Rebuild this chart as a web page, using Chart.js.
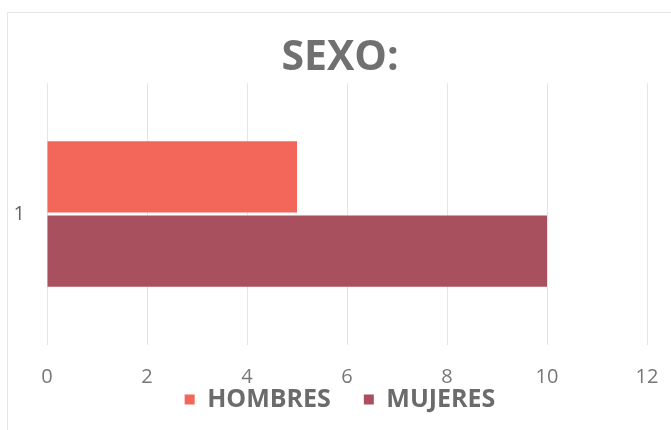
<!DOCTYPE html>
<html>
<head>
<meta charset="utf-8">
<script src="https://cdn.jsdelivr.net/npm/chart.js@4.4.0/dist/chart.umd.min.js"></script>
<style>
html,body{margin:0;padding:0;background:#fff;}
#wrap{position:relative;width:671px;height:430px;}
#frame{position:absolute;left:7px;top:12px;width:680px;height:430px;border:1px solid #e6e6e6;box-sizing:border-box;}
canvas{position:absolute;left:0;top:0;}
</style>
</head>
<body>
<div id="wrap">
<div id="frame"></div>
<canvas id="c" width="671" height="430"></canvas>
</div>
<script>
const categories = ['1'];
const seriesNames = ['HOMBRES', 'MUJERES'];
const hombres = [5];
const mujeres = [10];
const xTicks = [0, 2, 4, 6, 8, 10, 12];

new Chart(document.getElementById('c'), {
  type: 'bar',
  data: {
    labels: categories,
    datasets: [
      { label: seriesNames[0], data: hombres, backgroundColor: '#F2675A', barPercentage: 0.96, categoryPercentage: 0.567 },
      { label: seriesNames[1], data: mujeres, backgroundColor: '#A8505E', barPercentage: 0.96, categoryPercentage: 0.567 }
    ]
  },
  options: {
    indexAxis: 'y',
    responsive: false,
    animation: false,
    layout: { padding: { left: 33, right: 24, top: 0, bottom: 8 } },
    plugins: {
      title: {
        display: true,
        text: 'SEXO:',
        color: '#707070',
        font: { family: 'Open Sans', size: 41, weight: 'bold' },
        padding: { top: 34, bottom: 0 }
      },
      legend: {
        position: 'bottom',
        labels: {
          color: '#6b6b6b',
          font: { family: 'Open Sans', size: 25, weight: 'bold' },
          boxWidth: 10, boxHeight: 10, padding: 33
        }
      },
      tooltip: { enabled: false }
    },
    scales: {
      x: {
        min: xTicks[0], max: xTicks[xTicks.length - 1],
        afterBuildTicks: (s) => { s.ticks = xTicks.map(v => ({ value: v })); },
        afterFit: (s) => {
          s.height = 9;
          s.paddingLeft = 6;
          s.paddingRight = 11;
          s._computeLabelArea = () => undefined;
        },
        grid: { color: '#e4e4e4', drawTicks: false },
        border: { display: false },
        ticks: { color: '#777', font: { family: 'Open Sans', size: 20 }, padding: 20 }
      },
      y: {
        afterFit: (s) => { s.width = 14; s._computeLabelArea = () => undefined; },
        grid: { display: false, drawTicks: false },
        border: { display: false },
        ticks: { color: '#666', font: { family: 'Open Sans', size: 20 }, padding: 22 }
      }
    }
  }
});
</script>
</body>
</html>
